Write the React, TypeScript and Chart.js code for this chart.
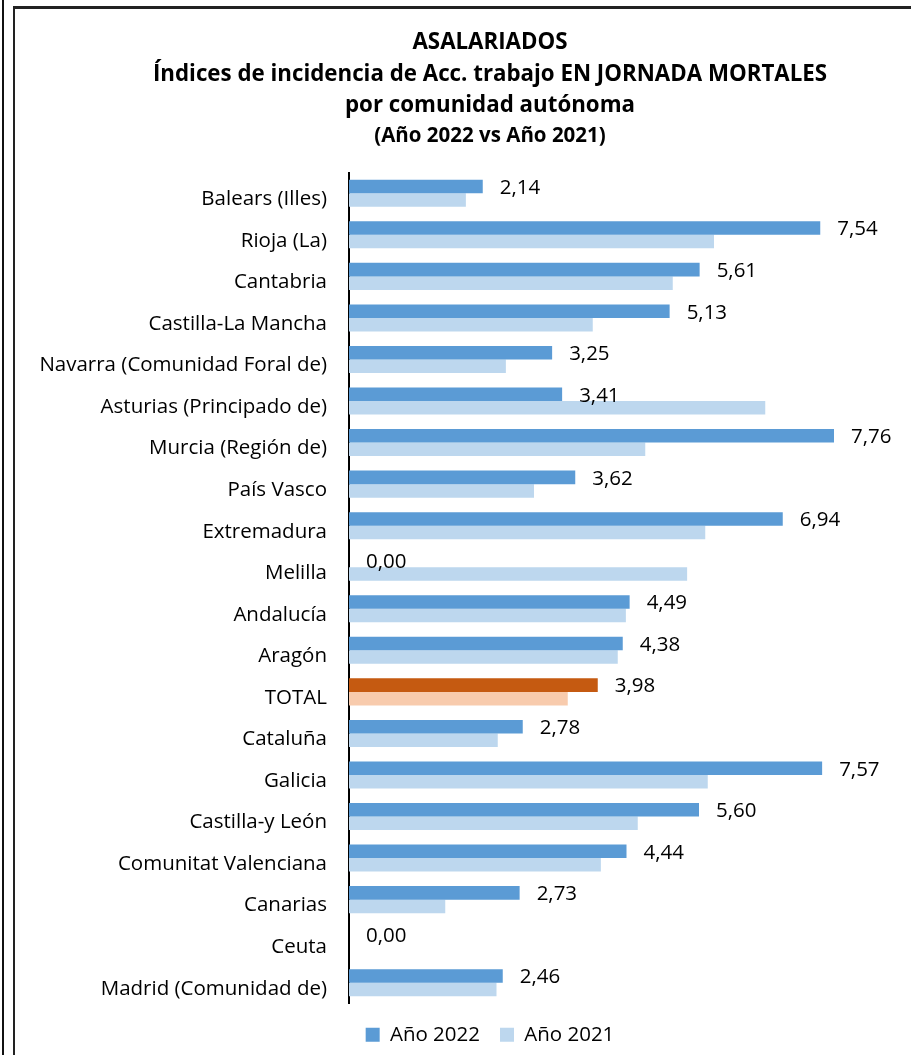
import React, { useEffect, useRef } from "react";
import { Chart, registerables } from "chart.js";

Chart.register(...registerables);

const categories = [
  "Balears (Illes)",
  "Rioja (La)",
  "Cantabria",
  "Castilla-La Mancha",
  "Navarra (Comunidad Foral de)",
  "Asturias (Principado de)",
  "Murcia (Región de)",
  "País Vasco",
  "Extremadura",
  "Melilla",
  "Andalucía",
  "Aragón",
  "TOTAL",
  "Cataluña",
  "Galicia",
  "Castilla-y León",
  "Comunitat Valenciana",
  "Canarias",
  "Ceuta",
  "Madrid (Comunidad de)",
];

const values2022 = [2.14, 7.54, 5.61, 5.13, 3.25, 3.41, 7.76, 3.62, 6.94, 0.0, 4.49, 4.38, 3.98, 2.78, 7.57, 5.6, 4.44, 2.73, 0.0, 2.46];
const values2021 = [1.87, 5.84, 5.18, 3.9, 2.51, 6.66, 4.74, 2.96, 5.7, 5.41, 4.43, 4.3, 3.5, 2.38, 5.74, 4.62, 4.03, 1.54, 0.0, 2.36];

const titleLines = [
  "ASALARIADOS",
  "Índices de incidencia de Acc. trabajo EN JORNADA MORTALES",
  "por comunidad autónoma",
];
const subtitleText = "(Año 2022 vs Año 2021)";
const seriesNames = ["Año 2022", "Año 2021"];

const FONT = "'Open Sans', 'Noto Sans', sans-serif";
const BLUE_DARK = "#5B9BD5";
const BLUE_LIGHT = "#BDD7EE";
const ORANGE_DARK = "#C55A11";
const ORANGE_LIGHT = "#F8CBAD";

const valueLabels = {
  id: "valueLabels",
  afterDatasetsDraw(chart: any) {
    const ctx = chart.ctx;
    const meta = chart.getDatasetMeta(0);
    ctx.save();
    ctx.font = `20.5px ${FONT}`;
    ctx.fillStyle = "#000";
    ctx.textAlign = "left";
    ctx.textBaseline = "middle";
    meta.data.forEach((bar: any, i: number) => {
      const v = values2022[i];
      const txt = v.toFixed(2).replace(".", ",");
      ctx.fillText(txt, bar.x + 17, bar.y + 1.5);
    });
    ctx.restore();
  },
};

export default function App() {
  const ref = useRef<HTMLCanvasElement>(null);

  useEffect(() => {
    if (!ref.current) return;
    const totalIdx = categories.indexOf("TOTAL");
    const chart = new Chart(ref.current, {
      type: "bar",
      data: {
        labels: categories,
        datasets: [
          {
            label: seriesNames[0],
            data: values2022,
            backgroundColor: (c: any) => (c.dataIndex === totalIdx ? ORANGE_DARK : BLUE_DARK),
            borderWidth: 0,
          },
          {
            label: seriesNames[1],
            data: values2021,
            backgroundColor: (c: any) => (c.dataIndex === totalIdx ? ORANGE_LIGHT : BLUE_LIGHT),
            borderWidth: 0,
          },
        ],
      },
      options: {
        indexAxis: "y",
        responsive: false,
        animation: false,
        layout: { padding: { left: 20, right: 20, top: 0, bottom: 0 } },
        datasets: { bar: { categoryPercentage: 0.65, barPercentage: 1 } },
        scales: {
          x: {
            display: true,
            position: "bottom",
            min: 0,
            max: 9.776,
            grid: { display: false },
            border: { display: false },
            ticks: { display: false },
            afterFit: (s: any) => {
              s.height = 1;
            },
          },
          y: {
            grid: { display: false, drawTicks: false },
            border: { display: true, color: "#000", width: 2 },
            ticks: {
              color: "#000",
              padding: 22,
              labelOffset: 6,
              font: { family: FONT, size: 20.5 },
              autoSkip: false,
            },
            afterFit: (s: any) => {
              s.width = 329;
            },
          },
        },
        plugins: {
          title: {
            display: true,
            text: titleLines,
            color: "#000",
            font: { family: FONT, size: 22.3, weight: "bold", lineHeight: "31.5px" },
            padding: { top: 27, bottom: 0 },
          },
          subtitle: {
            display: true,
            text: subtitleText,
            color: "#000",
            font: { family: FONT, size: 20.5, weight: "bold", lineHeight: "30px" },
            padding: { top: 0, bottom: 21 },
          },
          legend: {
            position: "bottom",
            labels: {
              color: "#000",
              boxWidth: 14,
              boxHeight: 14,
              padding: 20,
              font: { family: FONT, size: 20.5 },
            },
          },
          tooltip: { enabled: false },
        },
      },
      plugins: [valueLabels],
    });
    return () => chart.destroy();
  }, []);

  return (
    <div style={{ position: "absolute", left: 0, top: 0, width: 911, height: 1055, background: "#fff", overflow: "hidden" }}>
      <div style={{ position: "absolute", left: 2, top: 0, width: 2, height: 1055, background: "#111" }} />
      <div
        style={{
          position: "absolute",
          left: 13,
          top: 6,
          width: 911,
          height: 1060,
          borderTop: "3px solid #222",
          borderLeft: "2px solid #222",
        }}
      />
      <canvas ref={ref} width={980} height={1055} style={{ position: "absolute", left: 0, top: 0, width: 980, height: 1055 }} />
    </div>
  );
}
